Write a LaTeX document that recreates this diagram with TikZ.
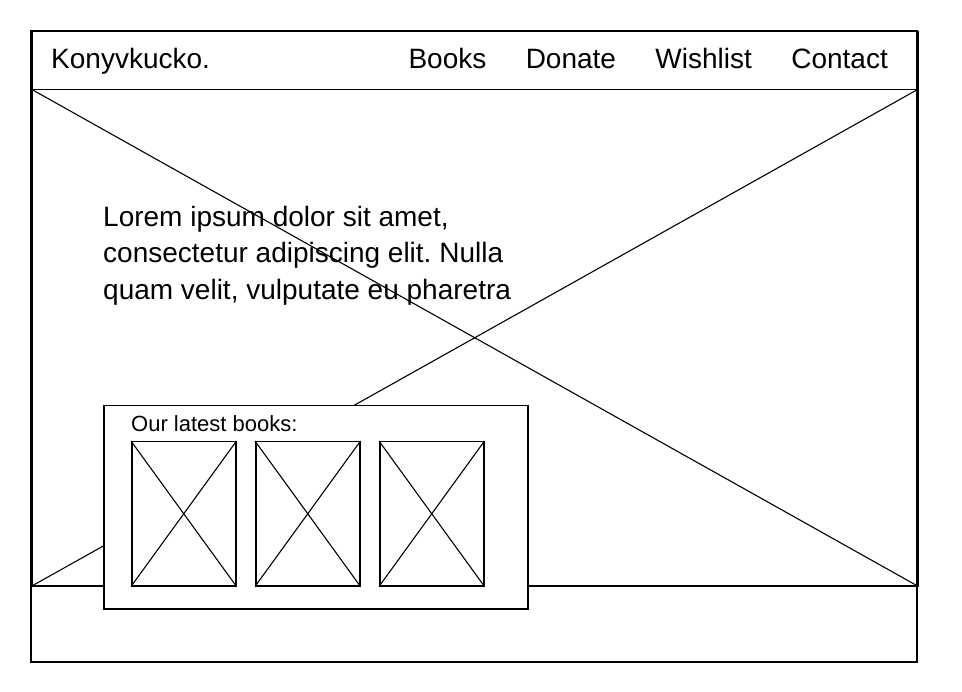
\documentclass[tikz,border=0pt]{standalone}
\usepackage{fontspec}
\setmainfont{Liberation Sans}
\usetikzlibrary{positioning}
\frenchspacing

\begin{document}
\begin{tikzpicture}[
			x = 1pt, y = -1pt,
			frame/.style = {draw, line width = 1.5pt},
			cross/.style = {line width = 1.1pt},
			box/.style = {frame, anchor = north west, inner sep = 0pt},
			navlink/.style = {inner sep = 0pt, font = \fontsize{28}{33}\selectfont}
			]

			\useasboundingbox (0,0) rectangle (962,692);

			% page, header and hero picture
			\draw[frame] (31,31) rectangle (917,662);
			\node[box, minimum width = 886pt, minimum height = 58pt] (header) at (31,31) {};
			\node[box, minimum width = 886pt, minimum height = 496pt] (hero) at (31,89) {};
			\draw[cross] (hero.north west) -- (hero.south east);
			\draw[cross] (hero.south west) -- (hero.north east);

			\node[navlink, anchor = base west] (brand) at (51,69) {Konyvkucko.};
			\node[navlink, anchor = base east] (contact) at (888,69) {Contact};
			\node[navlink, base left = 39pt of contact] (wishlist) {Wishlist};
			\node[navlink, base left = 39pt of wishlist] (donate) {Donate};
			\node[navlink, base left = 39pt of donate] (books) {Books};

			\node[anchor = north west, inner sep = 0pt, align = left, font = \fontsize{28}{36.5}\selectfont] (intro) at (103,206)
				{Lorem ipsum dolor sit amet,\\consectetur adipiscing elit. Nulla\\quam velit, vulputate eu pharetra};

			% latest books panel
			\node[box, fill = white, minimum width = 424pt, minimum height = 203pt] (latest) at (103,405) {};
			\node[anchor = base west, inner sep = 0pt, font = \fontsize{22}{26}\selectfont] (latesttitle) at (131,432) {Our latest books:};
			\foreach \n/\x in {1/131,2/255,3/379}{
				\node[box, minimum width = 104pt, minimum height = 144pt] (cover\n) at (\x,441) {};
				\draw[cross] (cover\n.north west) -- (cover\n.south east);
				\draw[cross] (cover\n.south west) -- (cover\n.north east);
			}

		\end{tikzpicture}
\end{document}
